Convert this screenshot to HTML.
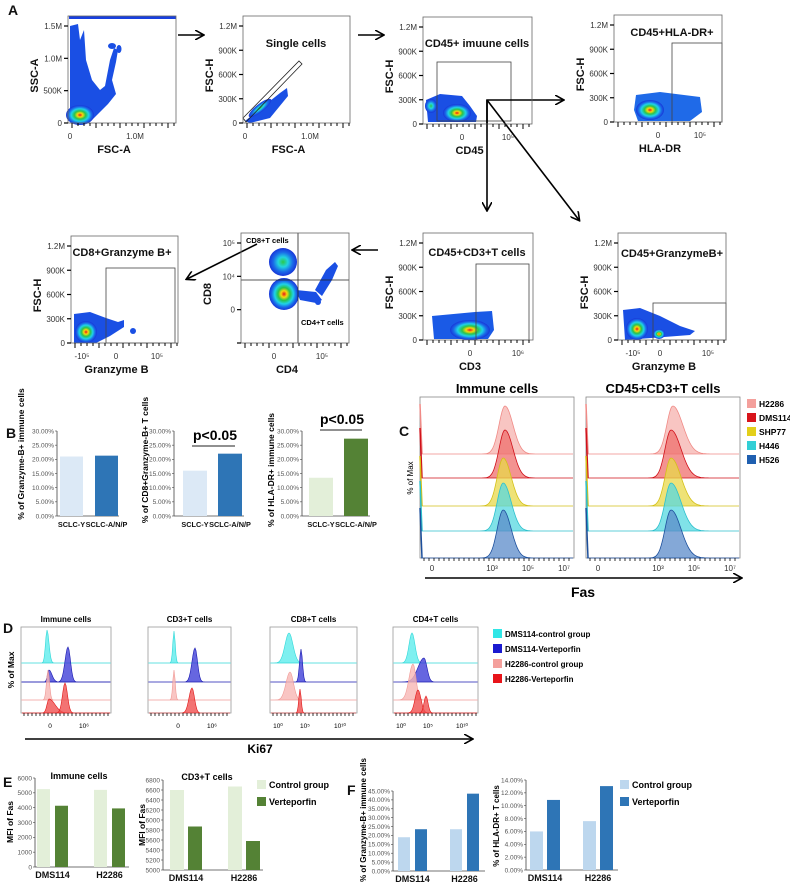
<!DOCTYPE html>
<html><head><meta charset="utf-8">
<style>
html,body{margin:0;padding:0;background:#fff;}
svg{display:block;font-family:"Liberation Sans",Arial,sans-serif;}
.t{font-size:8px;fill:#333;}
.ax{font-size:11px;font-weight:bold;fill:#111;}
.ttl{font-size:11px;font-weight:bold;fill:#111;}
.pl{font-size:14px;font-weight:bold;fill:#111;}
.bt{font-size:6.5px;fill:#555;}
.bx{font-size:9px;font-weight:bold;fill:#111;}
</style></head>
<body>
<svg id="fig" width="790" height="890" viewBox="0 0 790 890" xmlns="http://www.w3.org/2000/svg">
<defs>
<radialGradient id="heat" cx="0.5" cy="0.5" r="0.5">
<stop offset="0" stop-color="#e4161a"/><stop offset="0.2" stop-color="#f7d90c"/><stop offset="0.4" stop-color="#29c34a"/><stop offset="0.62" stop-color="#1fd3e8"/><stop offset="0.82" stop-color="#1a6ae8"/><stop offset="1" stop-color="#1836d8"/>
</radialGradient>
<radialGradient id="heatb" cx="0.5" cy="0.5" r="0.5">
<stop offset="0" stop-color="#2bc84a"/><stop offset="0.35" stop-color="#22d4e0"/><stop offset="0.7" stop-color="#1a6ae8"/><stop offset="1" stop-color="#1836d8"/>
</radialGradient>
<marker id="arr" markerWidth="10" markerHeight="10" refX="8" refY="5" orient="auto" markerUnits="userSpaceOnUse"><path d="M0,0 L9,5 L0,10" fill="none" stroke="#000" stroke-width="1.6"/></marker>
</defs>

<text class="pl" x="8" y="15">A</text>
<text class="pl" x="6" y="438">B</text>
<text class="pl" x="399" y="436">C</text>
<text class="pl" x="3" y="633">D</text>
<text class="pl" x="3" y="787">E</text>
<text class="pl" x="347" y="795">F</text>

<g>
 <rect x="69" y="16" width="107" height="3" fill="#1840e0"/>
 <path d="M70,120 L70,26 L78,24 L80,40 L84,30 L86,60 L92,80 L100,90 L105,86 L110,60 L114,48 L118,50 L116,62 L112,80 L116,94 L108,104 L98,114 L90,122 L70,122Z" fill="#1a4fe4"/>
 <ellipse cx="112" cy="46" rx="4" ry="3" fill="#1a4fe4"/>
 <ellipse cx="119" cy="49" rx="2.5" ry="4" fill="#1a4fe4"/>
 <ellipse cx="80" cy="115" rx="14" ry="10" fill="url(#heat)"/>
 <path d="M245,121 L280,93 L287,88 L288,96 L270,118 L250,123Z" fill="#1a4fe4"/>
 <ellipse cx="260" cy="108" rx="14" ry="4" transform="rotate(-38 260 108)" fill="url(#heatb)"/>
 <polygon points="243,118 299,61 302,64 246,122" fill="none" stroke="#222" stroke-width="0.8"/>
 <path d="M426,100 L440,94 L462,96 L470,106 L477,116 L476,122 L428,122Z" fill="#1a4fe4"/>
 <ellipse cx="457" cy="113" rx="14" ry="9" fill="url(#heat)"/>
 <ellipse cx="431" cy="106" rx="6" ry="7" fill="url(#heatb)"/>
 <rect x="437" y="62" width="74" height="59" fill="none" stroke="#444" stroke-width="0.8"/>
 <path d="M636,95 L660,92 L700,97 L702,112 L690,121 L638,121 L634,110Z" fill="#1f6ae8"/>
 <ellipse cx="650" cy="110" rx="14" ry="10" fill="url(#heat)"/>
 <rect x="672" y="43" width="50" height="79" fill="none" stroke="#444" stroke-width="0.8"/>
 <path d="M74,314 L90,312 L106,318 L118,322 L124,320 L124,327 L110,336 L96,343 L74,343Z" fill="#1a4fe4"/>
 <ellipse cx="86" cy="332" rx="11" ry="11" fill="url(#heat)"/>
 <ellipse cx="133" cy="331" rx="3" ry="3" fill="#1a4fe4"/>
 <rect x="106" y="268" width="69" height="75" fill="none" stroke="#444" stroke-width="0.8"/>
 <ellipse cx="283" cy="262" rx="14" ry="14" fill="url(#heatb)"/>
 <ellipse cx="284" cy="294" rx="15" ry="16" fill="url(#heat)"/>
 <path d="M296,290 L316,292 L322,300 L316,303 L300,300Z" fill="#1a4fe4"/>
 <path d="M315,290 L326,270 L335,262 L338,266 L332,280 L322,296Z" fill="#1a4fe4"/>
 <ellipse cx="318" cy="302" rx="3" ry="3" fill="#1a4fe4"/>
 <line x1="298" y1="233" x2="298" y2="343" stroke="#222" stroke-width="0.8"/>
 <line x1="241" y1="280" x2="349" y2="280" stroke="#222" stroke-width="0.8"/>
 <path d="M432,316 L475,312 L492,311 L494,330 L488,339 L434,339Z" fill="#1a5ae6"/>
 <ellipse cx="470" cy="330" rx="20" ry="10" fill="url(#heat)"/>
 <rect x="476" y="264" width="53" height="76" fill="none" stroke="#444" stroke-width="0.8"/>
 <path d="M623,310 L640,308 L660,316 L680,326 L695,331 L690,335 L625,340Z" fill="#1a4fe4"/>
 <ellipse cx="637" cy="329" rx="11" ry="11" fill="url(#heat)"/>
 <ellipse cx="659" cy="334" rx="6" ry="5" fill="url(#heat)"/>
 <rect x="653" y="303" width="73" height="37" fill="none" stroke="#444" stroke-width="0.8"/>
</g>

<g stroke="#000" stroke-width="1.6" fill="none">
 <line x1="178" y1="35" x2="203" y2="35" marker-end="url(#arr)"/>
 <line x1="358" y1="35" x2="383" y2="35" marker-end="url(#arr)"/>
 <polyline points="487,124 487,100 563,100" marker-end="url(#arr)"/>
 <line x1="487" y1="100" x2="487" y2="210" marker-end="url(#arr)"/>
 <line x1="487" y1="100" x2="579" y2="220" marker-end="url(#arr)"/>
 <line x1="378" y1="250" x2="353" y2="250" marker-end="url(#arr)"/>
 <line x1="257" y1="244" x2="187" y2="279" marker-end="url(#arr)"/>
 <line x1="425" y1="578" x2="741" y2="578" marker-end="url(#arr)"/>
 <line x1="25" y1="739" x2="472" y2="739" marker-end="url(#arr)"/>
</g>
<g id="dyn"></g>
</svg>
<script>
const bCats = ['SCLC-Y', 'SCLC-A/N/P'];
const bGranzyme = [21.0, 21.3];
const bCD8Gran = [16.0, 22.0];
const bHLADR = [13.5, 27.3];
const bTicks = [0, 5, 10, 15, 20, 25, 30];

const eCats = ['DMS114', 'H2286'];
const eImmCtrl = [5250, 5200];
const eImmVert = [4130, 3950];
const eImmTicks = [0, 1000, 2000, 3000, 4000, 5000, 6000];
const eCD3Ctrl = [6600, 6670];
const eCD3Vert = [5870, 5580];
const eCD3Ticks = [5000, 5200, 5400, 5600, 5800, 6000, 6200, 6400, 6600, 6800];

const fGranCtrl = [19.0, 23.5];
const fGranVert = [23.5, 43.5];
const fGranTicks = [0, 5, 10, 15, 20, 25, 30, 35, 40, 45];
const fHLACtrl = [6.0, 7.6];
const fHLAVert = [10.9, 13.05];
const fHLATicks = [0, 2, 4, 6, 8, 10, 12, 14];

const cLines = ['H2286', 'DMS114', 'SHP77', 'H446', 'H526'];
const cPeakImm = [3.5, 3.5, 3.4, 3.4, 3.4];
const cPeakT = [3.6, 3.5, 3.5, 3.5, 3.5];

const dLegend = ['DMS114-control group', 'DMS114-Verteporfin', 'H2286-control group', 'H2286-Verteporfin'];

const NS = 'http://www.w3.org/2000/svg';
const root = document.getElementById('dyn');
function mk(tag, attrs, parent, txt) {
  const e = document.createElementNS(NS, tag);
  for (const k in attrs) e.setAttribute(k, attrs[k]);
  if (txt !== undefined) e.textContent = txt;
  (parent || root).appendChild(e);
  return e;
}

function flowFrame(x0, y0, x1, y1, yLabels, yTitle, xTitle, xLabels, title, tx, ty, name) {
  const g = mk('g', {});
  
  
  mk('rect', {x: x0, y: y0, width: x1 - x0, height: y1 - y0, fill: 'none', stroke: '#666', 'stroke-width': 0.8}, g);
  const step = (y1 - y0 - 10) / Math.max(1, yLabels.length - 1);
  yLabels.forEach((l, i) => {
    const y = y1 - i * step;
    mk('line', {x1: x0 - 4, x2: x0, y1: y, y2: y, stroke: '#000', 'stroke-width': 1.2}, g);
    const t = mk('text', {x: x0 - 6, y: y + 3, 'text-anchor': 'end', class: 't'}, g, l);
    
    
  });
  for (let x = x0 + 4; x < x1; x += 6) mk('line', {x1: x, x2: x, y1: y1, y2: y1 + (((x - x0) / 6) % 4 < 1 ? 5 : 3), stroke: '#000', 'stroke-width': 1}, g);
  xLabels.forEach(p => {
    const t = mk('text', {x: p[0], y: y1 + 16, 'text-anchor': 'middle', class: 't'}, g, p[1]);
    
    
  });
  const yt = mk('text', {x: 0, y: 0, transform: `translate(${x0 - 30},${(y0 + y1) / 2 + 6}) rotate(-90)`, 'text-anchor': 'middle', class: 'ax'}, g, yTitle);
  
  
  const xt = mk('text', {x: (x0 + x1) / 2 - 8, y: y1 + 30, 'text-anchor': 'middle', class: 'ax'}, g, xTitle);
  
  
  if (title) {
    const tt = mk('text', {x: tx, y: ty, 'text-anchor': 'middle', class: 'ttl'}, g, title);
    
    
  }
}
const fscY = ['0', '300K', '600K', '900K', '1.2M'];
flowFrame(68, 16, 176, 123, ['0', '500K', '1.0M', '1.5M'], 'SSC-A', 'FSC-A', [[70, '0'], [135, '1.0M']], '', 0, 0, 'plot-fsc-ssc');
flowFrame(243, 16, 350, 123, fscY, 'FSC-H', 'FSC-A', [[245, '0'], [310, '1.0M']], 'Single cells', 296, 47, 'plot-single-cells');
flowFrame(423, 17, 532, 124, fscY, 'FSC-H', 'CD45', [[462, '0'], [508, '10⁵']], 'CD45+ imuune cells', 477, 47, 'plot-cd45');
flowFrame(614, 15, 722, 122, fscY, 'FSC-H', 'HLA-DR', [[658, '0'], [700, '10⁵']], 'CD45+HLA-DR+', 672, 36, 'plot-hla-dr');
flowFrame(71, 236, 178, 343, fscY, 'FSC-H', 'Granzyme B', [[82, '-10⁵'], [116, '0'], [157, '10⁵']], 'CD8+Granzyme B+', 122, 256, 'plot-cd8-granzyme');
flowFrame(241, 233, 349, 343, ['', '0', '10⁴', '10⁵'], 'CD8', 'CD4', [[274, '0'], [322, '10⁵']], '', 0, 0, 'plot-cd8-cd4');
flowFrame(423, 233, 533, 340, fscY, 'FSC-H', 'CD3', [[470, '0'], [518, '10⁶']], 'CD45+CD3+T cells', 477, 256, 'plot-cd3');
flowFrame(618, 233, 726, 340, fscY, 'FSC-H', 'Granzyme B', [[633, '-10⁵'], [660, '0'], [708, '10⁵']], 'CD45+GranzymeB+', 672, 257, 'plot-cd45-granzyme');
mk('text', {x: 246, y: 243, style: 'font-size:7.5px;font-weight:bold'}, root, 'CD8+T cells');
mk('text', {x: 301, y: 325, style: 'font-size:7.5px;font-weight:bold'}, root, 'CD4+T cells');

function barChart(o) {
  const g = mk('g', {});
  
  
  const ys = v => o.y0 - (v - o.min) / (o.max - o.min) * (o.y0 - o.y1);
  mk('line', {x1: o.ax, x2: o.ax, y1: o.y1, y2: o.y0, stroke: '#444', 'stroke-width': 0.8}, g);
  mk('line', {x1: o.ax, x2: o.ax + o.w, y1: o.y0, y2: o.y0, stroke: '#444', 'stroke-width': 0.8}, g);
  o.ticks.forEach(v => {
    const y = ys(v);
    mk('line', {x1: o.ax - 2, x2: o.ax, y1: y, y2: y, stroke: '#444', 'stroke-width': 0.6}, g);
    const t = mk('text', {x: o.ax - 3, y: y + 2.3, 'text-anchor': 'end', class: 'bt'}, g, o.fmt(v));
    
    
  });
  o.cats.forEach((c, i) => {
    o.series.forEach((s, j) => {
      const x = o.ax + o.pad + i * o.gstep + j * o.bstep;
      const v = s.vals[i];
      const r = mk('rect', {x: x, y: ys(v), width: o.bw, height: o.y0 - ys(v), fill: s.colors ? s.colors[i] : s.color}, g);
      
      
    });
    const nb = o.series.length;
    const cx = o.ax + o.pad + i * o.gstep + ((nb - 1) * o.bstep + o.bw) / 2;
    const t = mk('text', {x: cx, y: o.y0 + 11, 'text-anchor': 'middle', class: 'bx', style: 'font-size:' + (o.xfs || 9) + 'px'}, g, c);
    
    
  });
  const yt = mk('text', {x: 0, y: 0, transform: `translate(${o.tx},${o.ty}) rotate(-90)`, 'text-anchor': 'middle', style: 'font-size:' + (o.tfs || 8.5) + 'px;font-weight:bold'}, g, o.ytitle);
  
  
  if (o.title) {
    const tt = mk('text', {x: o.ttx, y: o.tty, 'text-anchor': 'middle', style: 'font-size:9px;font-weight:bold'}, g, o.title);
    
    
  }
}
const pct2 = v => v.toFixed(2) + '%';
const num = v => String(v);
const blueL = '#dce9f6', blueD = '#2e75b6', greenL = '#e3efd9', greenD = '#548235', blueM = '#bdd7ee';
barChart({name: 'chart-b-granzyme', ax: 57, y0: 516, y1: 431, min: 0, max: 30, w: 62, ticks: bTicks, fmt: pct2, cats: bCats, xfs: 7.3,
  series: [{key: 'pct', vals: bGranzyme, colors: [blueL, blueD]}], pad: 3, gstep: 35, bstep: 0, bw: 23, ytitle: '% of Granzyme-B+ immune cells', tx: 24, ty: 454});
barChart({name: 'chart-b-cd8-granzyme', ax: 174, y0: 516, y1: 431, min: 0, max: 30, w: 70, ticks: bTicks, fmt: pct2, cats: bCats, xfs: 7.3,
  series: [{key: 'pct', vals: bCD8Gran, colors: [blueL, blueD]}], pad: 9, gstep: 35, bstep: 0, bw: 24, ytitle: '% of CD8+Granzyme-B+ T cells', tx: 148, ty: 460});
barChart({name: 'chart-b-hla-dr', ax: 302, y0: 516, y1: 431, min: 0, max: 30, w: 68, ticks: bTicks, fmt: pct2, cats: bCats, xfs: 7.3,
  series: [{key: 'pct', vals: bHLADR, colors: [greenL, greenD]}], pad: 7, gstep: 35, bstep: 0, bw: 24, ytitle: '% of HLA-DR+ immune cells', tx: 274, ty: 470});
mk('text', {x: 215, y: 440, 'text-anchor': 'middle', style: 'font-size:14px;font-weight:bold'}, root, 'p<0.05');
mk('line', {x1: 192, x2: 235, y1: 446, y2: 446, stroke: '#222', 'stroke-width': 1}, root);
mk('text', {x: 342, y: 424, 'text-anchor': 'middle', style: 'font-size:14px;font-weight:bold'}, root, 'p<0.05');
mk('line', {x1: 320, x2: 362, y1: 430, y2: 430, stroke: '#222', 'stroke-width': 1}, root);

barChart({name: 'chart-e-immune', ax: 35, y0: 867, y1: 778, min: 0, max: 6000, w: 94, ticks: eImmTicks, fmt: num, cats: eCats,
  series: [{key: 'control', vals: eImmCtrl, color: greenL}, {key: 'verteporfin', vals: eImmVert, color: greenD}], pad: 2, gstep: 57, bstep: 18, bw: 13,
  ytitle: 'MFI of Fas', tx: 13, ty: 822, title: 'Immune cells', ttx: 79, tty: 779});
barChart({name: 'chart-e-cd3', ax: 163, y0: 870, y1: 780, min: 5000, max: 6800, w: 100, ticks: eCD3Ticks, fmt: num, cats: eCats,
  series: [{key: 'control', vals: eCD3Ctrl, color: greenL}, {key: 'verteporfin', vals: eCD3Vert, color: greenD}], pad: 7, gstep: 58, bstep: 18, bw: 14,
  ytitle: 'MFI of Fas', tx: 145, ty: 825, title: 'CD3+T cells', ttx: 207, tty: 780});
barChart({name: 'chart-f-granzyme', ax: 393, y0: 871, y1: 791, min: 0, max: 45, w: 92, ticks: fGranTicks, fmt: pct2, cats: eCats,
  series: [{key: 'control', vals: fGranCtrl, color: blueM}, {key: 'verteporfin', vals: fGranVert, color: blueD}], pad: 5, gstep: 52, bstep: 17, bw: 12,
  ytitle: '% of Granzyme-B+ immune cells', tx: 366, ty: 820, tfs: 8});
barChart({name: 'chart-f-hla-dr', ax: 526, y0: 870, y1: 780, min: 0, max: 14, w: 92, ticks: fHLATicks, fmt: pct2, cats: eCats,
  series: [{key: 'control', vals: fHLACtrl, color: blueM}, {key: 'verteporfin', vals: fHLAVert, color: blueD}], pad: 4, gstep: 53, bstep: 17, bw: 13,
  ytitle: '% of HLA-DR+ T cells', tx: 499, ty: 826, tfs: 8});

function legend(x, y, items, colors, gap, name, fs) {
  items.forEach((it, i) => {
    const r = mk('rect', {x: x, y: y + i * gap, width: 9, height: 9, fill: colors[i]});
    
    
    const t = mk('text', {x: x + 12, y: y + i * gap + 8, style: 'font-size:' + fs + 'px;font-weight:bold'}, root, it);
    
    
  });
}
legend(257, 780, ['Control group', 'Verteporfin'], [greenL, greenD], 17, 'legend-e', 9);
legend(620, 780, ['Control group', 'Verteporfin'], [blueM, blueD], 17, 'legend-f', 9);

function peakPath(cx, base, h, sl, sr, x0, x1) {
  let d = `M${x0},${base}`;
  for (let x = x0; x <= x1; x += 1) {
    const s = x < cx ? sl : sr;
    d += ` L${x},${(base - h * Math.exp(-((x - cx) ** 2) / (2 * s * s))).toFixed(1)}`;
  }
  return d + ` L${x1},${base}Z`;
}
const cFill = ['#f6b2ae', '#ef6f6c', '#e8d84a', '#55d8e0', '#5b8bc9'];
const cStroke = ['#f08a86', '#d0101a', '#d4c018', '#2cc0cc', '#1c4f9c'];
const cBase = [454, 478, 506, 531, 558];
function histBox(x0, x1, peaks, title, name, sw) {
  const g = mk('g', {});
  
  
  mk('rect', {x: x0, y: 397, width: x1 - x0, height: 161, fill: '#fff', stroke: '#888', 'stroke-width': 0.8}, g);
  const zero = x0 + 12;
  peaks.forEach((p, i) => {
    const cx = zero + 10 + p / 7 * (x1 - x0 - 28);
    const pa = mk('path', {d: peakPath(cx, cBase[i], 48, 6, sw, x0 + 1, x1 - 1), fill: cFill[i], 'fill-opacity': 0.75, stroke: cStroke[i], 'stroke-width': 0.8}, g);
    
    
    mk('line', {x1: x0, x2: x0 + 2, y1: cBase[i] - 50, y2: cBase[i], stroke: cStroke[i], 'stroke-width': 1.5}, g);
  });
  for (let x = x0 + 4; x < x1; x += 5) mk('line', {x1: x, x2: x, y1: 558, y2: 561, stroke: '#000', 'stroke-width': 0.8}, g);
  [['0', 0], ['10³', 3], ['10⁵', 5], ['10⁷', 7]].forEach(p => {
    const x = p[1] === 0 ? zero : zero + 10 + p[1] / 7 * (x1 - x0 - 28) - 4;
    mk('text', {x: x, y: 571, 'text-anchor': 'middle', class: 't'}, g, p[0]);
  });
  const t = mk('text', {x: (x0 + x1) / 2, y: 393, 'text-anchor': 'middle', style: 'font-size:13px;font-weight:bold'}, g, title);
  
  
}
histBox(420, 574, cPeakImm, 'Immune cells', 'histogram-immune-fas', 8);
histBox(586, 740, cPeakT, 'CD45+CD3+T cells', 'histogram-t-fas', 10);
mk('text', {x: 0, y: 0, transform: 'translate(413,478) rotate(-90)', 'text-anchor': 'middle', style: 'font-size:8px'}, root, '% of Max');
mk('text', {x: 583, y: 597, 'text-anchor': 'middle', style: 'font-size:14px;font-weight:bold'}, root, 'Fas');
legend(747, 399, cLines, ['#f4a09c', '#d8141b', '#e3cf1a', '#32cfd6', '#1f5fb0'], 14, 'legend-c', 8.5);

const dFill = ['#5eecec', '#4040d8', '#f7b7b4', '#f05050'];
const dStroke = ['#30d8d8', '#1a1ab0', '#f09a96', '#e01a1a'];
const dBase = [663, 682, 700, 713];
function dBox(x0, x1, title, name, peaks, labels) {
  const g = mk('g', {});
  
  
  mk('rect', {x: x0, y: 627, width: x1 - x0, height: 86, fill: '#fff', stroke: '#999', 'stroke-width': 0.8}, g);
  peaks.forEach((pl, i) => {
    pl.forEach(p => {
      const pa = mk('path', {d: peakPath(p[0], dBase[i], p[1], p[2], p[3], x0 + 1, x1 - 1), fill: dFill[i], 'fill-opacity': 0.8, stroke: dStroke[i], 'stroke-width': 0.6}, g);
      
      
    });
    if (i < 3) mk('line', {x1: x0, x2: x1, y1: dBase[i], y2: dBase[i], stroke: dStroke[i], 'stroke-width': 0.5}, g);
  });
  for (let x = x0 + 3; x < x1; x += 4) mk('line', {x1: x, x2: x, y1: 713, y2: 716, stroke: '#000', 'stroke-width': 0.8}, g);
  labels.forEach(l => mk('text', {x: l[0], y: 728, 'text-anchor': 'middle', style: 'font-size:6.5px'}, g, l[1]));
  const t = mk('text', {x: (x0 + x1) / 2, y: 622, 'text-anchor': 'middle', style: 'font-size:8px;font-weight:bold'}, g, title);
  
  
}
dBox(21, 111, 'Immune cells', 'ki67-immune', [[[47, 33, 1.5, 2]], [[49, 12, 1.5, 3], [68, 35, 3, 2.5]], [[48, 30, 1.5, 1.5]], [[49, 14, 2, 6], [65, 30, 2.5, 2.5]]], [[50, '0'], [84, '10⁶']]);
dBox(148, 231, 'CD3+T cells', 'ki67-cd3', [[[174, 32, 1.2, 1.2]], [[195, 34, 3, 2.5]], [[174, 30, 1.2, 1.2]], [[192, 25, 3, 2.5]]], [[178, '0'], [212, '10⁶']]);
dBox(270, 357, 'CD8+T cells', 'ki67-cd8', [[[289, 30, 4, 4]], [[301, 33, 1.5, 1.5]], [[290, 28, 4, 3.5]], [[300, 24, 1.2, 1.2]]], [[278, '10⁰'], [305, '10⁵'], [340, '10¹⁰']]);
dBox(393, 478, 'CD4+T cells', 'ki67-cd4', [[[412, 30, 3, 3]], [[424, 24, 6, 3]], [[413, 36, 4, 3]], [[418, 23, 3, 3], [426, 17, 2, 2]]], [[401, '10⁰'], [428, '10⁵'], [462, '10¹⁰']]);
mk('text', {x: 0, y: 0, transform: 'translate(14,670) rotate(-90)', 'text-anchor': 'middle', style: 'font-size:8.5px;font-weight:bold'}, root, '% of Max');
mk('text', {x: 260, y: 753, 'text-anchor': 'middle', style: 'font-size:12px;font-weight:bold'}, root, 'Ki67');
legend(493, 629, dLegend, ['#30e6e6', '#1a1ad0', '#f4a09c', '#e8141a'], 15, 'legend-d', 8);
</script>
</body></html>
